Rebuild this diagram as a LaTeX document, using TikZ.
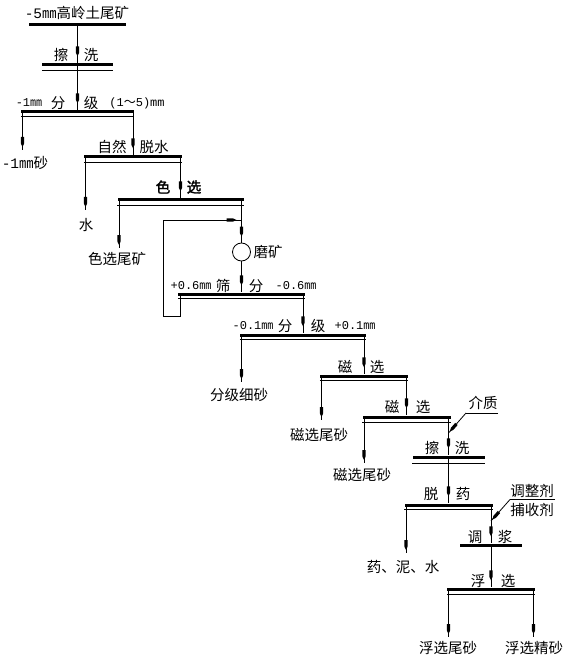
\documentclass[tikz,border=0pt]{standalone}
\usepackage{fontspec}
\setmainfont{Noto Sans CJK SC}
\newfontfamily\cjkf{Noto Sans CJK SC}
\newfontfamily\cjkbf{Noto Sans CJK SC}[FakeBold=2]
\newfontfamily\numf{Liberation Mono}
\usetikzlibrary{decorations.markings}
\newcommand\mmsym{{\cjkf ㎜}}
\tikzset{
  bar/.style={fill=black, draw=none, inner sep=0pt, minimum height=3pt},
  flow/.style={line width=0.8pt},
  thinl/.style={line width=0.8pt},
  arr/.style={decoration={markings, mark=at position #1 with {\fill (-10pt,-1.6pt) -- (-3.5pt,-1.6pt) -- (0pt,0pt) -- (-3.5pt,1.6pt) -- (-10pt,1.6pt) -- cycle;}}, postaction={decorate}},
  arr/.default=-7pt,
  lab/.style={font=\fontsize{14.5}{16}\selectfont, inner sep=0pt},
  num/.style={font=\fontsize{12}{14}\selectfont\numf, inner sep=0pt},
}
\begin{document}
\begin{tikzpicture}[x=1pt,y=-1pt]
\useasboundingbox[fill=white] (0,0) rectangle (567,660);
% bars
\node[bar,minimum width=97pt]  (b1)  at (77.5,25) {};
\node[bar,minimum width=71pt]  (b2)  at (77.5,65) {};
\node[bar,minimum width=113pt] (b3)  at (77.5,112) {};
\node[bar,minimum width=98pt]  (b4)  at (133,157) {};
\node[bar,minimum width=126pt] (b5)  at (180.5,200) {};
\node[circle,draw,line width=0.8pt,minimum size=18pt,inner sep=0pt] (mill) at (241.5,252) {};
\node[bar,minimum width=127pt] (b6)  at (241.5,294) {};
\node[bar,minimum width=126pt] (b7)  at (303,335) {};
\node[bar,minimum width=88pt]  (b8)  at (364,376) {};
\node[bar,minimum width=88pt]  (b9)  at (406.5,417) {};
\node[bar,minimum width=72pt]  (b10) at (448.5,457) {};
\node[bar,minimum width=88pt]  (b11) at (448.5,505) {};
\node[bar,minimum width=62pt]  (b12) at (491,545) {};
\node[bar,minimum width=88pt]  (b13) at (491,589) {};
% thin lines under bars
\foreach \b/\d in {b2/5,b3/4.5,b4/5,b5/5,b6/4.5,b7/4.5,b8/4.5,b9/5,b10/6,b11/4.5,b13/5}
  \draw[thinl] ([yshift=-\d pt]\b.west) -- ([yshift=-\d pt]\b.east);
% free ends
\coordinate (e3) at (22.5,150);
\coordinate (e4) at (85.5,210);
\coordinate (e5) at (119,248);
\coordinate (e7) at (241.5,382);
\coordinate (e8) at (321.5,420);
\coordinate (e9) at (364,463);
\coordinate (e11) at (406,553);
\coordinate (e13a) at (448.5,637);
\coordinate (e13b) at (533.5,637);
% main flow
\draw[flow,arr] (b2.north |- b1.center) -- (b2.north);
\draw[flow,arr] (b3.north |- b2.center) -- (b3.north);
\draw[flow,arr] (b4.north |- b3.center) -- (b4.north);
\draw[flow,arr] (b5.north |- b4.center) -- (b5.north);
\draw[flow,arr=-6pt] (mill.north |- b5.center) -- (mill.north);
\draw[flow,arr] (mill.south) -- (mill.south |- b6.north);
\draw[flow,arr] (b7.north |- b6.center) -- (b7.north);
\draw[flow,arr] (b8.north |- b7.center) -- (b8.north);
\draw[flow,arr] (b9.north |- b8.center) -- (b9.north);
\draw[flow,arr] (b10.north |- b9.center) -- (b10.north);
\draw[flow,arr] (b11.north |- b10.center) -- (b11.north);
\draw[flow,arr] (b12.north |- b11.center) -- (b12.north);
\draw[flow,arr] (b12.south) -- (b13.north);
% side products
\draw[flow,arr=-3pt] (e3 |- b3.center) -- (e3);
\draw[flow,arr=-3pt] (e4 |- b4.center) -- (e4);
\draw[flow,arr=-3pt] (e5 |- b5.center) -- (e5);
\draw[flow,arr=-3pt] (e7 |- b7.center) -- (e7);
\draw[flow,arr=-3pt] (e8 |- b8.center) -- (e8);
\draw[flow,arr=-3pt] (e9 |- b9.center) -- (e9);
\draw[flow,arr=-3pt] (e11 |- b11.center) -- (e11);
\draw[flow,arr=-3pt] (e13a |- b13.center) -- (e13a);
\draw[flow,arr=-3pt] (e13b |- b13.center) -- (e13b);
% recycle loop
\coordinate (lp1) at (180,316);
\coordinate (lp2) at (163,316);
\coordinate (lp3) at (163,220);
\draw[flow] (lp1 |- b6.center) -- (lp1) -- (lp2) -- (lp3);
\draw[flow,arr=-5pt] (lp3) -- (lp3 -| mill.north);
% reagents
\node[lab] (zj) at (483,403) {介质};
\coordinate (zjl) at (466,413);
\coordinate (zjr) at (498,413);
\coordinate (zjin) at (448.5,433);
\draw[flow] (zjr) -- (zjl);
\draw[flow,arr=-2pt] (zjl) -- (zjin);
\node[lab] (tz) at (532,491) {调整剂};
\node[lab] (bs) at (532,510) {捕收剂};
\coordinate (tzl) at (510,499.5);
\coordinate (tzr) at (555,499.5);
\coordinate (tzin) at (491,521);
\draw[flow] (tzr) -- (tzl);
\draw[flow,arr=-2pt] (tzl) -- (tzin);
% labels
\node[lab] (t1) at (77,13) {{\numf -5}㎜高岭土尾矿};
\node[lab] (t2a) at (61,55) {擦};
\node[lab] (t2b) at (91,55) {洗};
\node[num] (t3a) at (29,103) {-1\mmsym};
\node[lab] (t3b) at (58,103) {分};
\node[lab] (t3c) at (91,103) {级};
\node[num] (t3d) at (137,103) {(1{\cjkf ～}5)mm};
\node[lab] (p3) at (25,163) {{\numf -1}㎜砂};
\node[lab] (t4a) at (112,147) {自然};
\node[lab] (t4b) at (154,147) {脱水};
\node[lab] (p4) at (86,225) {水};
\node[lab] (t5a) at (163,187) {\cjkbf 色};
\node[lab] (t5b) at (194,187) {\cjkbf 选};
\node[lab] (p5) at (117,259) {色选尾矿};
\node[lab] (tm) at (268,252) {磨矿};
\node[num] (t6a) at (191,286) {+0.6\mmsym};
\node[lab] (t6b) at (223,286) {筛};
\node[lab] (t6c) at (256,286) {分};
\node[num] (t6d) at (296,286) {-0.6\mmsym};
\node[num] (t7a) at (253,326) {-0.1\mmsym};
\node[lab] (t7b) at (285,326) {分};
\node[lab] (t7c) at (318,326) {级};
\node[num] (t7d) at (355,326) {+0.1\mmsym};
\node[lab] (p7) at (239,395) {分级细砂};
\node[lab] (t8a) at (345,367) {磁};
\node[lab] (t8b) at (377,367) {选};
\node[lab] (p8) at (319,435) {磁选尾砂};
\node[lab] (t9a) at (392,407) {磁};
\node[lab] (t9b) at (423,407) {选};
\node[lab] (p9) at (362,475) {磁选尾砂};
\node[lab] (t10a) at (432,448) {擦};
\node[lab] (t10b) at (462,448) {洗};
\node[lab] (t11a) at (431,494) {脱};
\node[lab] (t11b) at (463,494) {药};
\node[lab] (p11) at (403,567) {药、泥、水};
\node[lab] (t12a) at (475,537) {调};
\node[lab] (t12b) at (505,537) {浆};
\node[lab] (t13a) at (478,581) {浮};
\node[lab] (t13b) at (508,581) {选};
\node[lab] (p13a) at (448,648) {浮选尾砂};
\node[lab] (p13b) at (534,648) {浮选精砂};
\end{tikzpicture}
\end{document}
